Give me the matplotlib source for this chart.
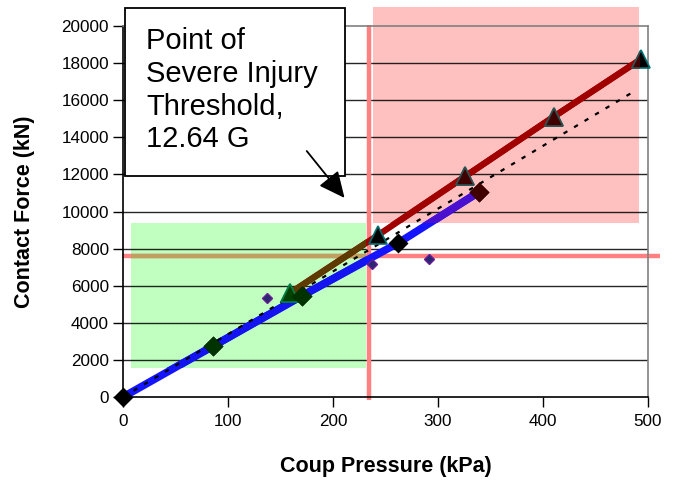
import matplotlib
matplotlib.use("Agg")
import matplotlib.pyplot as plt
from matplotlib.patches import Rectangle

plt.rcParams["font.family"] = ["Liberation Sans", "DejaVu Sans"]

# large diamonds (blue line series)
dia_x = [0, 86, 170, 262, 339]
dia_y = [0, 2750, 5440, 8300, 11050]

# triangles (red line series)
tri_x = [159, 243, 326, 410, 493]
tri_y = [5600, 8730, 11900, 15100, 18200]

# small diamonds (no line)
small_x = [137, 237, 291]
small_y = [5340, 7170, 7440]

# dotted trend line end points
trend_x = [0, 486]
trend_y = [0, 16450]

# threshold lines
thr_x = 234
thr_y = 7600

# shaded zones: (x0, x1, y0, y1)
green_zone = (7.6, 231, 1560, 9380)
pink_zone = (238, 491, 9380, 21020)

x_ticks = [0, 100, 200, 300, 400, 500]
y_ticks = list(range(0, 20001, 2000))

fig = plt.figure(figsize=(6.82, 4.8), dpi=100)
ax = fig.add_axes([123 / 682, 1 - 397 / 480, 525 / 682, 371 / 480])
ax.set_xlim(0, 500)
ax.set_ylim(0, 20000)

# zones
g = Rectangle((green_zone[0], green_zone[2]), green_zone[1] - green_zone[0],
              green_zone[3] - green_zone[2], facecolor="#C0FFC0", edgecolor="none",
              zorder=0.5)
p = Rectangle((pink_zone[0], pink_zone[2]), pink_zone[1] - pink_zone[0],
              pink_zone[3] - pink_zone[2], facecolor="#FFC0C0", edgecolor="none",
              zorder=0.5, clip_on=False)
ax.add_patch(g)
ax.add_patch(p)

# grid
for yv in y_ticks[1:-1]:
    ax.axhline(yv, color="#000000", lw=1.0, alpha=0.85, zorder=1)

# threshold lines
ax.plot([thr_x, thr_x], [-160, 20050], color="#FF8080", lw=3.2, zorder=2,
        clip_on=False, solid_capstyle="butt")
ax.plot([-1, 511], [thr_y, thr_y], color="#FF8080", lw=3.2, zorder=2,
        clip_on=False, solid_capstyle="butt")
ln = ax.plot([-1, 511], [thr_y, thr_y], color="#C0A060", lw=3.2, zorder=2.1,
             solid_capstyle="butt")[0]
ln.set_clip_path(g)


def layered(x, y, base, green, pink, **kw):
    a = ax.plot(x, y, color=base, clip_on=False, **kw)[0]
    b = ax.plot(x, y, color=green, **kw)[0]
    b.set_clip_path(g)
    c = ax.plot(x, y, color=pink, **kw)[0]
    c.set_clip_path(p)
    return a, b, c


# blue series line
layered(dia_x, dia_y, "#1414FF", "#1414F0", "#4A10D0", lw=5.5, zorder=3,
        solid_capstyle="butt")
# trend line
ax.plot(trend_x, trend_y, color="#000000", lw=1.6, ls=(0, (2, 3.5)), zorder=3.5)
# red series line
layered(tri_x, tri_y, "#A00000", "#5C3A00", "#A00000", lw=4.5, zorder=4,
        solid_capstyle="butt")

# markers
for fc, ec, clip in [("#000000", "#007070", None), ("#004000", "#008040", g),
                     ("#400000", "#305050", p)]:
    t = ax.plot(tri_x, tri_y, ls="none", marker="^", ms=13, mfc=fc, mec=ec,
                mew=1.2, zorder=5, clip_on=clip is not None)[0]
    if clip is not None:
        t.set_clip_path(clip)
for fc, clip in [("#000000", None), ("#003300", g), ("#400000", p)]:
    d = ax.plot(dia_x, dia_y, ls="none", marker="D", ms=10, mfc=fc, mec="none",
                zorder=5, clip_on=clip is not None)[0]
    if clip is not None:
        d.set_clip_path(clip)

ax.plot(small_x, small_y, ls="none", marker="D", ms=5, mfc="#28286E",
        mec="#6A1A9A", mew=1, zorder=5)

# annotation
ax.add_patch(Rectangle((1.9, 11920), 209.5, 9060, facecolor="white",
                       edgecolor="#000000", lw=1.3, zorder=6, clip_on=False))
ax.text(21.9, 19950, "Point of\nSevere Injury\nThreshold,\n12.64 G",
        fontsize=21, ha="left", va="top", linespacing=1.22, zorder=7)
ax.annotate("", xy=(211, 10730), xytext=(175, 13260),
            arrowprops=dict(arrowstyle="-|>,head_length=1.6,head_width=0.75",
                            color="#000000", lw=1.3, shrinkA=0, shrinkB=0),
            zorder=7)

# axes styling
ax.set_xticks(x_ticks)
ax.set_yticks(y_ticks)
ax.tick_params(axis="both", direction="out", labelsize=12.3, colors="#000000")
ax.tick_params(axis="x", length=7, width=1, pad=5)
ax.tick_params(axis="y", length=7, width=1, pad=3)
ax.spines["left"].set_color("#000000")
ax.spines["bottom"].set_color("#000000")
ax.spines["top"].set_color("#808080")
ax.spines["right"].set_color("#808080")
for s in ax.spines.values():
    s.set_linewidth(1.2)
    s.set_zorder(2.5)

ax.set_xlabel("Coup Pressure (kPa)", fontsize=15.5, fontweight="bold")
ax.set_ylabel("Contact Force (kN)", fontsize=15.5, fontweight="bold")
ax.xaxis.set_label_coords(0.5, -0.158)
ax.yaxis.set_label_coords(-0.168, 0.5)

fig.savefig("out.png", dpi=100)
plt.close(fig)
